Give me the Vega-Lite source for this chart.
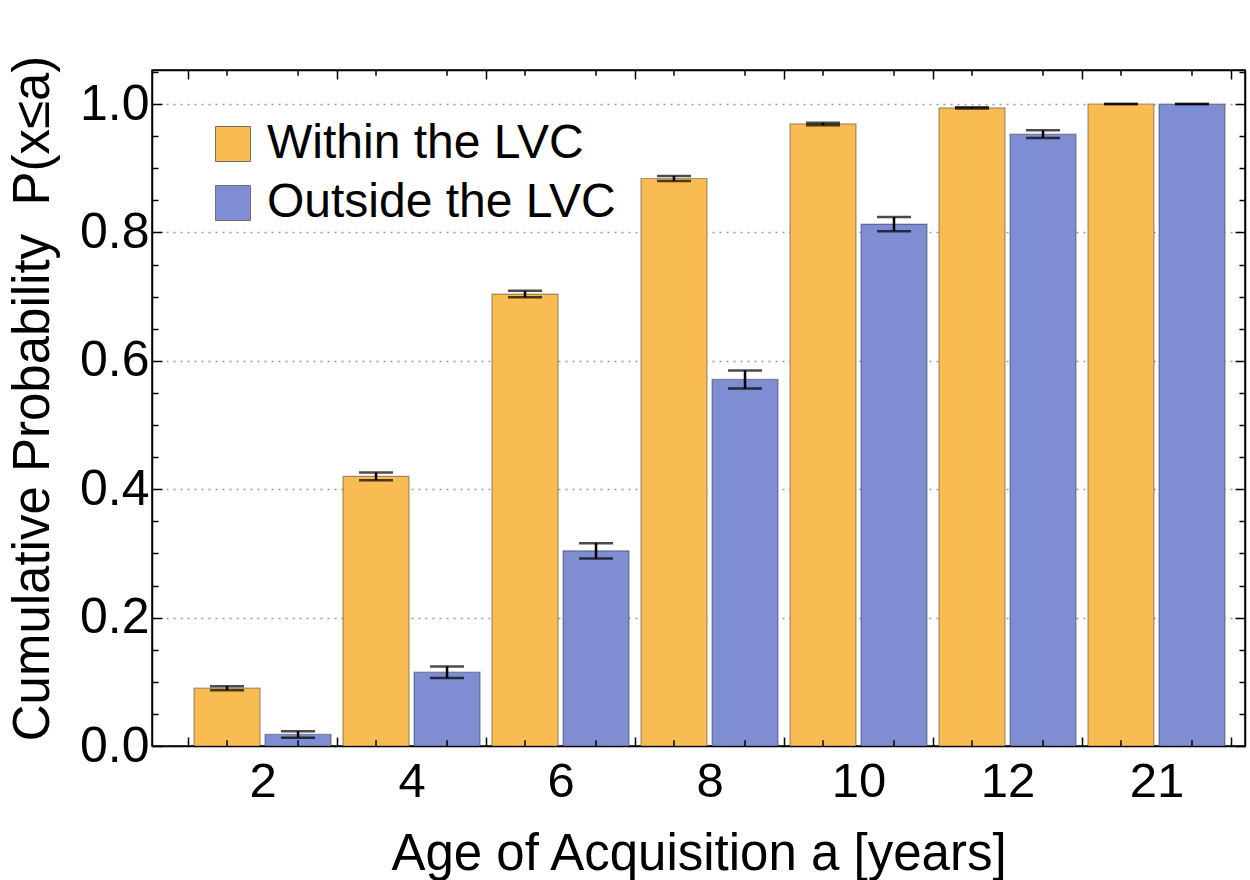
{
  "$schema": "https://vega.github.io/schema/vega-lite/v6.json",
  "autosize": "none",
  "width": 1093,
  "height": 676,
  "padding": {"left": 152, "top": 70, "right": 5, "bottom": 134},
  "background": "white",
  "config": {
    "font": "Liberation Sans",
    "view": {"stroke": "black", "strokeWidth": 1.5},
    "axis": {"domainColor": "black", "domainWidth": 1.5, "tickColor": "black", "tickWidth": 1.5, "labelColor": "black", "titleColor": "black", "titleFontWeight": "normal", "labelFont": "Liberation Sans", "titleFont": "Liberation Sans"},
    "legend": {"labelFont": "Liberation Sans"}
  },
  "data": {
    "values": [
      {"age": "2", "group": "Within the LVC", "p": 0.090, "lo": 0.087, "hi": 0.093},
      {"age": "4", "group": "Within the LVC", "p": 0.420, "lo": 0.414, "hi": 0.426},
      {"age": "6", "group": "Within the LVC", "p": 0.704, "lo": 0.699, "hi": 0.709},
      {"age": "8", "group": "Within the LVC", "p": 0.884, "lo": 0.880, "hi": 0.888},
      {"age": "10", "group": "Within the LVC", "p": 0.969, "lo": 0.967, "hi": 0.971},
      {"age": "12", "group": "Within the LVC", "p": 0.994, "lo": 0.993, "hi": 0.995},
      {"age": "21", "group": "Within the LVC", "p": 1.000, "lo": 1.000, "hi": 1.000},
      {"age": "2", "group": "Outside the LVC", "p": 0.018, "lo": 0.013, "hi": 0.023},
      {"age": "4", "group": "Outside the LVC", "p": 0.115, "lo": 0.106, "hi": 0.124},
      {"age": "6", "group": "Outside the LVC", "p": 0.304, "lo": 0.292, "hi": 0.316},
      {"age": "8", "group": "Outside the LVC", "p": 0.571, "lo": 0.557, "hi": 0.585},
      {"age": "10", "group": "Outside the LVC", "p": 0.813, "lo": 0.802, "hi": 0.824},
      {"age": "12", "group": "Outside the LVC", "p": 0.953, "lo": 0.947, "hi": 0.959},
      {"age": "21", "group": "Outside the LVC", "p": 1.000, "lo": 1.000, "hi": 1.000}
    ]
  },
  "resolve": {"axis": {"x": "independent", "y": "independent"}},
  "layer": [
    {
      "mark": {"type": "bar", "stroke": "black", "strokeOpacity": 0.35, "strokeWidth": 1.2},
      "encoding": {
        "x": {"field": "age", "type": "nominal", "sort": ["2", "4", "6", "8", "10", "12", "21"],
          "scale": {"domain": ["2", "4", "6", "8", "10", "12", "21"], "paddingInner": 0, "paddingOuter": 0.168, "align": 0.72},
          "axis": {"orient": "bottom", "title": "Age of Acquisition a [years]", "titleFontSize": 51, "titleBaseline": "alphabetic", "titleY": 123, "labelAngle": 0, "labelFontSize": 49, "labelPadding": 20, "tickBand": "extent", "tickSize": -9}},
        "xOffset": {"field": "group", "type": "nominal", "sort": ["Within the LVC", "Outside the LVC"],
          "scale": {"domain": ["Within the LVC", "Outside the LVC"], "paddingInner": 0.07, "paddingOuter": 0.084}},
        "y": {"field": "p", "type": "quantitative",
          "scale": {"domain": [0, 1.053], "nice": false, "zero": true},
          "axis": {"orient": "left", "title": "Cumulative Probability\u00a0 P(x\u2264a)", "titleFontSize": 51, "titleAngle": -90, "titleBaseline": "alphabetic", "titleAlign": "center", "titleX": -104, "titleY": 328, "values": [0, 0.2, 0.4, 0.6, 0.8, 1.0], "format": ".1f", "labelFontSize": 50, "labelPadding": 13, "tickSize": -10, "grid": true, "gridColor": "#9a9a9a", "gridDash": [2, 5], "gridWidth": 1.5}},
        "color": {"field": "group", "type": "nominal",
          "scale": {"domain": ["Within the LVC", "Outside the LVC"], "range": ["#F8BC53", "#7F8ED3"]},
          "legend": {"orient": "none", "legendX": 57, "legendY": 50, "title": null, "symbolType": "square", "symbolSize": 1225, "symbolStrokeColor": "#6e6e6e", "symbolStrokeWidth": 1, "symbolOpacity": 1, "labelFontSize": 48, "labelLimit": 1000, "labelOffset": 10, "rowPadding": 11, "labelColor": "black"}}
      }
    },
    {
      "mark": {"type": "rule", "color": "black", "strokeWidth": 2.5},
      "encoding": {
        "x": {"field": "age", "type": "nominal", "sort": ["2", "4", "6", "8", "10", "12", "21"],
          "axis": {"orient": "top", "title": null, "labels": false, "tickBand": "extent", "tickSize": -9, "domain": true}},
        "xOffset": {"field": "group", "type": "nominal", "sort": ["Within the LVC", "Outside the LVC"]},
        "y": {"field": "lo", "type": "quantitative",
          "axis": {"orient": "left", "title": null, "labels": false, "domain": false, "grid": false, "tickSize": -6, "values": [0.05, 0.1, 0.15, 0.25, 0.3, 0.35, 0.45, 0.5, 0.55, 0.65, 0.7, 0.75, 0.85, 0.9, 0.95, 1.05]}},
        "y2": {"field": "hi"}
      }
    },
    {
      "mark": {"type": "tick", "color": "black", "thickness": 2.5, "size": 34, "orient": "horizontal"},
      "encoding": {
        "x": {"field": "age", "type": "nominal", "sort": ["2", "4", "6", "8", "10", "12", "21"], "axis": null},
        "xOffset": {"field": "group", "type": "nominal", "sort": ["Within the LVC", "Outside the LVC"]},
        "y": {"field": "hi", "type": "quantitative",
          "axis": {"orient": "right", "title": null, "labels": false, "domain": true, "grid": false, "tickSize": -10, "values": [0, 0.2, 0.4, 0.6, 0.8, 1.0]}}
      }
    },
    {
      "mark": {"type": "tick", "color": "black", "thickness": 2.5, "size": 34, "orient": "horizontal"},
      "encoding": {
        "x": {"field": "age", "type": "nominal", "sort": ["2", "4", "6", "8", "10", "12", "21"], "axis": null},
        "xOffset": {"field": "group", "type": "nominal", "sort": ["Within the LVC", "Outside the LVC"]},
        "y": {"field": "lo", "type": "quantitative",
          "axis": {"orient": "right", "title": null, "labels": false, "domain": false, "grid": false, "tickSize": -6, "values": [0.05, 0.1, 0.15, 0.25, 0.3, 0.35, 0.45, 0.5, 0.55, 0.65, 0.7, 0.75, 0.85, 0.9, 0.95, 1.05]}}
      }
    },
    {
      "mark": {"type": "rule", "color": "black", "strokeWidth": 1.5},
      "encoding": {
        "x": {"field": "age", "type": "nominal", "sort": ["2", "4", "6", "8", "10", "12", "21"], "axis": null},
        "xOffset": {"field": "group", "type": "nominal", "sort": ["Within the LVC", "Outside the LVC"]},
        "y": {"datum": 0, "type": "quantitative", "axis": null},
        "y2": {"datum": 0.009}
      }
    },
    {
      "mark": {"type": "rule", "color": "black", "strokeWidth": 1.5},
      "encoding": {
        "x": {"field": "age", "type": "nominal", "sort": ["2", "4", "6", "8", "10", "12", "21"], "axis": null},
        "xOffset": {"field": "group", "type": "nominal", "sort": ["Within the LVC", "Outside the LVC"]},
        "y": {"datum": 1.053, "type": "quantitative", "axis": null},
        "y2": {"datum": 1.044}
      }
    }
  ]
}
